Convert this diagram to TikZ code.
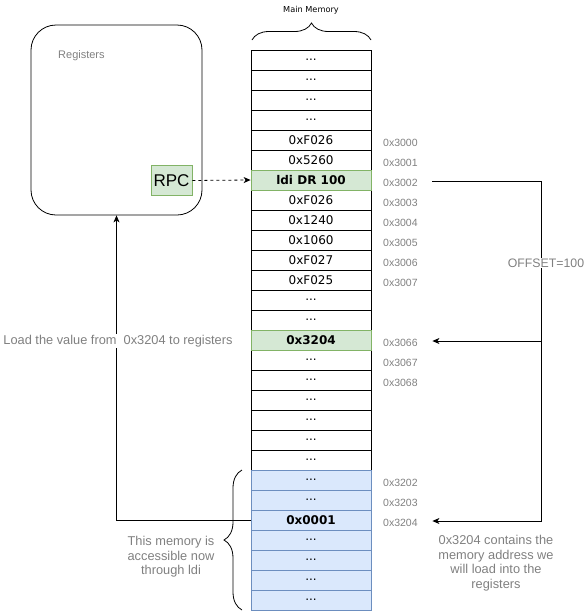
\documentclass[tikz,border=0pt]{standalone}
\usepackage{fontspec}
\setmainfont{Liberation Sans}
\newfontfamily\cellfont{DejaVu Sans}
\usetikzlibrary{arrows.meta,decorations.pathreplacing}
\definecolor{txtgray}{RGB}{128,128,128}
\definecolor{gfill}{HTML}{D5E8D4}
\definecolor{gline}{HTML}{82B366}
\definecolor{bfill}{HTML}{DAE8FC}
\definecolor{bline}{HTML}{6C8EBF}
\newcommand\mydots{...}
\tikzset{
  cell/.style={draw=black,fill=white,minimum width=120pt,minimum height=20pt,inner sep=0pt,
    font=\cellfont\fontsize{12}{14}\selectfont,line width=0.8pt},
  gcell/.style={cell,draw=gline,fill=gfill,font=\cellfont\bfseries\fontsize{12}{14}\selectfont},
  bcell/.style={cell,draw=bline,fill=bfill},
  addr/.style={anchor=west,inner sep=0pt,text width=49pt,align=left,text=txtgray,
    font=\fontsize{10.5}{12}\selectfont},
  note/.style={text=txtgray,font=\fontsize{12.8}{14.5}\selectfont,align=center,inner sep=1pt},
  conn/.style={line width=0.8pt,-{Stealth[length=7pt,width=6pt,inset=2pt]}},
  plain/.style={line width=0.8pt},
}
\begin{document}
\begin{tikzpicture}[x=1pt,y=-1pt]
\useasboundingbox (0,0) rectangle (585,611);
% registers box
\node[draw,line width=0.8pt,rounded corners=25pt,minimum width=171pt,minimum height=190pt,inner sep=0pt] (regs) at (116.5,120) {};
\node[text=txtgray,font=\fontsize{11}{13}\selectfont,anchor=west,inner sep=0pt] (regl) at (58,56) {Registers};
\node[draw=gline,fill=gfill,line width=0.8pt,minimum width=41pt,minimum height=30pt,inner sep=0pt,font=\fontsize{17}{19}\selectfont] (rpc) at (171.5,180.5) {RPC};
% memory cells
\foreach \i/\t in {1/\mydots,2/\mydots,3/\mydots,4/\mydots,5/0xF026,6/0x5260,8/0xF026,9/0x1240,10/0x1060,11/0xF027,12/0xF025,13/\mydots,14/\mydots,16/\mydots,17/\mydots,18/\mydots,19/\mydots,20/\mydots,21/\mydots}{
  \node[cell] (m\i) at (311,40+20*\i) {\t};
}
\node[gcell] (m7) at (311,180) {ldi DR 100};
\node[gcell] (m15) at (311,340) {0x3204};
\foreach \i in {22,23,25,26,27,28}{
  \node[bcell] (m\i) at (311,40+20*\i) {\mydots};
}
\node[bcell,font=\cellfont\bfseries\fontsize{12}{14}\selectfont] (m24) at (311,520) {0x0001};
% main memory brace
\node[font=\cellfont\fontsize{8.2}{10}\selectfont,inner sep=0pt] (mmlabel) at (311,10) {Main Memory};
\draw[plain,decorate,decoration={brace,amplitude=17pt}] (252,40) -- (371,40);
% addresses
\foreach \i/\a in {5/0x3000,6/0x3001,7/0x3002,8/0x3003,9/0x3004,10/0x3005,11/0x3006,12/0x3007,15/0x3066,16/0x3067,17/0x3068,22/0x3202,23/0x3203,24/0x3204}{
  \node[addr] (a\a) at (383,43+20*\i) {\a};
}
% RPC arrow
\draw[conn,dashed] (rpc.east) -- (m7.west);
% offset connectors
\coordinate (j) at (541,181);
\draw[conn] ([yshift=2pt]a0x3002.east) -- (j) |- ([yshift=2pt]a0x3066.east);
\draw[conn] (j) |- ([yshift=2pt]a0x3204.east);
\node[note,fill=white,font=\fontsize{12.3}{14}\selectfont] (off) at (546,263) {OFFSET=100};
% load connector
\draw[conn] (m24.west) -| (regs.south);
\node[note,fill=white] (load) at (118,341) {Load the value from\ \ 0x3204 to registers};
% bottom brace and texts
\draw[plain,decorate,decoration={brace,amplitude=18pt}] (242,610) -- (242,470);
\node[note] (acc) at (171,557) {This memory is\\accessible now\\through ldi};
\node[note] (cont) at (496,563) {0x3204 contains the\\memory address we\\will load into the\\registers};
\end{tikzpicture}
\end{document}
